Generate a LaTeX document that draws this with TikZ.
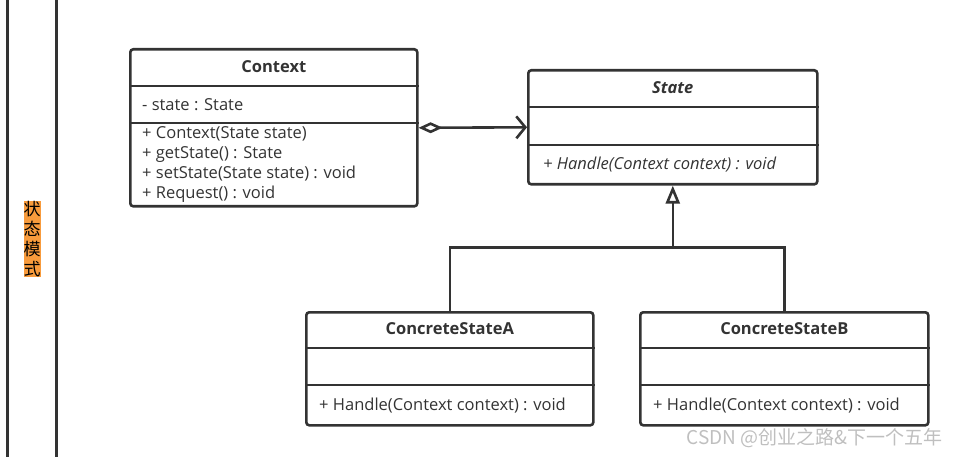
\documentclass[tikz,border=0pt]{standalone}
\usepackage{fontspec}
\setmainfont{Open Sans}
\newfontfamily\cjk{Noto Sans CJK SC}
\usetikzlibrary{arrows.meta,positioning}
\definecolor{linec}{HTML}{333333}
\definecolor{tagorange}{HTML}{F89B3C}
\tikzset{
  cls/.style={draw=linec,line width=2.6pt,rounded corners=3pt,anchor=north west,inner sep=0pt},
  sep/.style={draw=linec,line width=2.4pt},
  cname/.style={font=\fontsize{16.5}{19}\selectfont\bfseries,text=linec},
  member/.style={font=\fontsize{16.5}{20}\selectfont,text=linec,anchor=north west,align=left,inner sep=0pt},
  link/.style={draw=linec,line width=2.6pt},
}
\begin{document}
\begin{tikzpicture}[x=1pt,y=-1pt]
  \useasboundingbox (0,0) rectangle (959,457);
  % side band
  \draw[linec,line width=3pt] (7,0) coordinate(bandl) -- (7,457);
  \draw[linec,line width=3pt] (56,0) coordinate(bandr) -- (56,457);
  \node[fill=tagorange,inner sep=0pt,align=center,font=\cjk\fontsize{17}{20}\selectfont] (tag) at (32,239) {状\\态\\模\\式};

  % Context
  \node[cls,minimum width=287pt,minimum height=157pt] (ctx) at (129,48) {};
  \draw[sep] ([yshift=-38pt]ctx.north west) -- ([yshift=-38pt]ctx.north east);
  \draw[sep] ([yshift=-75pt]ctx.north west) -- ([yshift=-75pt]ctx.north east);
  \node[cname] (ctxname) at ([yshift=-19pt]ctx.north) {Context};
  \node[member] (ctxattr) at ([xshift=13pt,yshift=-50pt]ctx.north west) {- state : State};
  \node[member] (ctxops) at ([xshift=13pt,yshift=-78pt]ctx.north west)
    {+ Context(State state)\\+ getState() : State\\+ setState(State state) : void\\+ Request() : void};

  % State
  \node[cls,minimum width=289pt,minimum height=114pt] (st) at (527,69) {};
  \draw[sep] ([yshift=-38pt]st.north west) -- ([yshift=-38pt]st.north east);
  \draw[sep] ([yshift=-76pt]st.north west) -- ([yshift=-76pt]st.north east);
  \node[cname,font=\fontsize{16.5}{19}\selectfont\bfseries\itshape] (stname) at ([yshift=-19pt]st.north) {State};
  \node[member,font=\fontsize{16.5}{19}\selectfont\itshape] (stops) at ([xshift=16pt,yshift=-88pt]st.north west) {+ Handle(Context context) : void};

  % ConcreteStateA
  \node[cls,minimum width=287pt,minimum height=113pt] (csa) at (305,311) {};
  \draw[sep] ([yshift=-37pt]csa.north west) -- ([yshift=-37pt]csa.north east);
  \draw[sep] ([yshift=-74pt]csa.north west) -- ([yshift=-74pt]csa.north east);
  \node[cname] (csaname) at ([yshift=-18pt]csa.north) {ConcreteStateA};
  \node[member] (csaops) at ([xshift=14pt,yshift=-87pt]csa.north west) {+ Handle(Context context) : void};

  % ConcreteStateB
  \node[cls,minimum width=288pt,minimum height=113pt] (csb) at (639,311) {};
  \draw[sep] ([yshift=-37pt]csb.north west) -- ([yshift=-37pt]csb.north east);
  \draw[sep] ([yshift=-74pt]csb.north west) -- ([yshift=-74pt]csb.north east);
  \node[cname] (csbname) at ([yshift=-18pt]csb.north) {ConcreteStateB};
  \node[member] (csbops) at ([xshift=14pt,yshift=-87pt]csb.north west) {+ Handle(Context context) : void};

  % relations
  \draw[link,{Diamond[open,length=24pt,width=11pt]}-{Straight Barb[length=9pt,width=22pt]}] (ctx.east) -- (st.west);
  \path (st.south) ++(0,62) coordinate (bus);
  \draw[link,-{Triangle[open,length=18pt,width=14pt]}] (bus) -- (st.south);
  \draw[link] (csa.north) |- (bus) -| (csb.north);

  \node[anchor=south east,inner sep=0pt,text=gray!50,font=\cjk\fontsize{19}{21}\selectfont] (mark) at (943,448) {CSDN @创业之路\&下一个五年};
\end{tikzpicture}
\end{document}
